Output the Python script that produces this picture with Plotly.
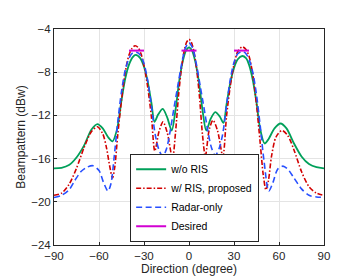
import plotly.graph_objects as go

# ---- data ----
wo_ris_deg = [-90, -85, -80, -75, -70, -65, -61, -57.5, -54, -51, -48, -45, -42.5, -40, -37.5, -35.5,
              -32.5, -30, -27.5, -25, -23, -20.5, -17.5, -14.5, -11.5, -9, -6.5, -4, -2, 0,
              2, 4, 6.5, 9, 11.5, 14.5, 17.5, 20.5, 23, 25, 27.5, 30, 32.5, 35.5, 38, 40, 42.5,
              45, 47.5, 50.4, 53, 57, 61, 65, 70, 75, 80, 85, 90]
wo_ris_db = [-16.9, -16.85, -16.6, -15.9, -14.8, -13.3, -12.8, -13.2, -14.0, -14.4, -13.3, -10.6,
             -8.6, -7.3, -6.6, -6.4, -6.7, -7.5, -8.9, -10.9, -12.6, -11.9, -11.4, -12.2, -13.4,
             -11.5, -8.8, -6.9, -6.0, -5.7, -6.0, -6.9, -8.8, -11.5, -13.4, -12.3, -11.7, -12.1,
             -12.7, -11.0, -9.0, -7.6, -6.8, -6.5, -6.7, -7.3, -8.7, -10.8, -13.3, -14.6, -14.2,
             -13.2, -12.75, -13.2, -14.6, -15.8, -16.5, -16.8, -16.9]

ris_deg = [-90, -85, -80, -75, -70, -65, -61, -57.5, -55, -53, -51, -49.5, -47.5, -45, -42.5, -40,
           -38, -36, -34, -32, -30, -27.5, -25, -22.8, -20, -17.3, -14.5, -11, -9, -7, -5, -3,
           -1.5, 0, 1.5, 3, 5, 7, 9, 10.9, 13.5, 16, 19, 22.6, 25, 27.5, 30, 32.5, 35.5, 38, 40,
           42.5, 45, 47.5, 49.5, 51.3, 53, 55, 58, 62, 66, 70, 75, 80, 85, 90]
ris_db = [-19.4, -19.2, -18.4, -16.9, -15.0, -13.5, -13.05, -13.7, -15.0, -16.6, -17.8, -16.8,
          -13.8, -10.6, -8.0, -6.4, -5.8, -5.55, -5.7, -6.3, -7.4, -9.4, -12.2, -15.3, -13.5,
          -12.6, -13.6, -16.0, -13.6, -10.2, -7.6, -5.9, -5.2, -4.95, -5.2, -5.9, -7.6, -10.3,
          -13.8, -15.8, -13.3, -12.45, -13.4, -15.8, -12.1, -9.3, -7.3, -6.1, -5.65, -5.9, -6.5,
          -8.2, -11.0, -14.6, -17.5, -18.9, -18.0, -15.8, -14.0, -13.4, -13.9, -15.2, -17.2,
          -18.6, -19.2, -19.4]

radar_deg = [-90, -85, -80, -76, -72, -68, -64, -60, -57, -54, -52, -50, -47.5, -45, -42.5, -40,
             -37.5, -35, -32.5, -30, -27.5, -25, -22.5, -20, -17.5, -15, -12.5, -10, -7.5, -5,
             -2.5, 0, 2.5, 5, 7.5, 10, 12.5, 15, 17.5, 20, 22.5, 25, 27.5, 30, 32.5, 35, 37.5,
             40, 42.5, 45, 47.5, 50, 53.2, 56, 59, 62.6, 66, 70, 75, 80, 85, 90]
radar_db = [-19.6, -19.4, -18.9, -18.0, -17.2, -16.8, -16.66, -17.1, -18.2, -19.0, -18.3, -16.0,
            -12.6, -9.8, -7.8, -6.7, -6.2, -6.15, -6.4, -7.2, -8.8, -11.2, -13.8, -15.2, -15.8,
            -15.1, -13.4, -11.3, -9.3, -7.3, -5.8, -5.26, -5.8, -7.3, -9.3, -11.3, -13.4, -15.0,
            -15.7, -15.1, -13.7, -11.1, -8.7, -7.1, -6.3, -6.1, -6.2, -6.8, -8.0, -10.1, -13.0,
            -16.2, -19.0, -18.2, -17.0, -16.7, -17.0, -17.8, -18.8, -19.4, -19.55, -19.6]

desired_ranges = [(-40, -30), (-5, 5), (30, 40)]
desired_level = -6

x_ticks = [-90, -60, -30, 0, 30, 60, 90]
y_ticks = [-24, -20, -16, -12, -8, -4]

# ---- build desired segments ----
des_x, des_y = [], []
for a, b in desired_ranges:
    des_x += [a, b, None]
    des_y += [desired_level, desired_level, None]

fig = go.Figure()
fig.add_trace(go.Scatter(x=wo_ris_deg, y=wo_ris_db, name="w/o RIS", mode="lines",
                         line=dict(color="rgb(0,160,90)", width=1.8, shape="spline", smoothing=0.8)))
fig.add_trace(go.Scatter(x=ris_deg, y=ris_db, name="w/ RIS, proposed", mode="lines",
                         line=dict(color="rgb(210,0,0)", width=1.6, dash="5px,2px,1.5px,2px",
                                   shape="spline", smoothing=0.8)))
fig.add_trace(go.Scatter(x=radar_deg, y=radar_db, name="Radar-only", mode="lines",
                         line=dict(color="rgb(40,80,255)", width=1.6, dash="6px,3.5px",
                                   shape="spline", smoothing=0.8)))
fig.add_trace(go.Scatter(x=des_x, y=des_y, name="Desired", mode="lines",
                         line=dict(color="rgb(210,0,210)", width=2)))

font = "Liberation Sans, Arial, Helvetica, sans-serif"
axis_common = dict(showgrid=True, gridcolor="rgb(228,228,228)", gridwidth=1,
                   showline=True, linecolor="rgb(38,38,38)", linewidth=1, mirror=True,
                   ticks="inside", ticklen=3, tickcolor="rgb(38,38,38)", zeroline=False,
                   tickfont=dict(family=font, size=11.5, color="rgb(38,38,38)"))

fig.update_layout(
    width=350, height=277,
    margin=dict(l=46, r=34, t=21, b=38),
    paper_bgcolor="white", plot_bgcolor="white",
    font=dict(family=font, size=11, color="rgb(38,38,38)"),
    xaxis=dict(range=[-90, 90], tickvals=x_ticks,
               title=dict(text="Direction (degree)", standoff=3, font=dict(size=12)),
               **axis_common),
    yaxis=dict(range=[-24, -4], tickvals=y_ticks,
               title=dict(text="Beampattern (dBw)", standoff=2, font=dict(size=12)),
               **axis_common),
    legend=dict(x=0.282, y=0.015, xanchor="left", yanchor="bottom",
                bgcolor="white", bordercolor="rgb(38,38,38)", borderwidth=1,
                font=dict(family=font, size=10.5, color="black"),
                itemwidth=30, tracegroupgap=0),
    showlegend=True,
)

fig.write_html("out.html")
